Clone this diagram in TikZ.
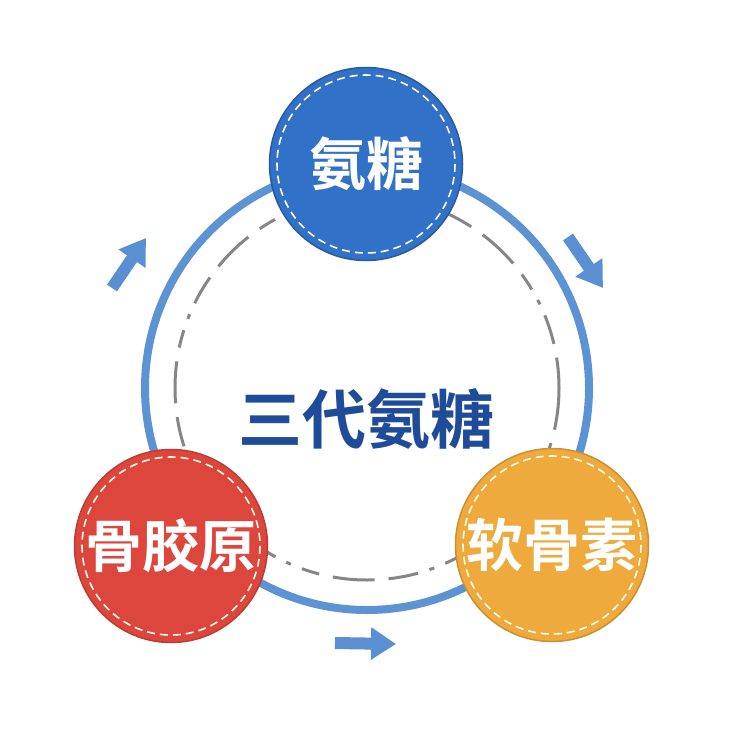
\documentclass[tikz,border=0pt]{standalone}
\usepackage{fontspec}
\newfontfamily\cjk{Noto Sans CJK SC}[BoldFont={Noto Sans CJK SC Bold}]
\usetikzlibrary{arrows.meta}
\definecolor{ringblue}{HTML}{5B93D3}
\definecolor{flowblue}{HTML}{5A90D2}
\definecolor{ballblue}{HTML}{3271C8}
\definecolor{ballred}{HTML}{DC463D}
\definecolor{ballorange}{HTML}{EEAA3C}
\definecolor{titleblue}{HTML}{1F4C99}

\begin{document}
\begin{tikzpicture}[x=1pt,y=-1pt,
  ball/.style={circle,minimum size=193pt,inner sep=0pt,line width=1.5pt,
    text=white,font=\cjk\bfseries\fontsize{57}{57}\selectfont},
  stitch/.style={draw=white!90!yellow,line width=1.6pt,dash pattern=on 8pt off 5pt},
  flow/.style={draw=flowblue,line width=12pt,-{Triangle[length=25pt,width=31pt]}}]
  \useasboundingbox[fill=white] (0,0) rectangle (730,730);
  \coordinate (O) at (367,388);
  \draw[ringblue,line width=8pt] (O) circle[radius=222];
  \draw[gray!95,line width=3pt,
    dash pattern=on 42pt off 14pt on 18pt off 12pt on 5pt off 12pt on 30pt off 14pt]
    (O) circle[radius=192];

  \node[ball,fill=ballblue,draw=ballblue!80!black] (an) at (366,164) {\raisebox{3pt}{氨糖}};
  \node[ball,fill=ballred,draw=ballred!85!black] (gu) at (171,546) {骨胶原};
  \node[ball,fill=ballorange,draw=ballorange!85!black] (ruan) at (552,545) {软骨素};
  \draw[stitch] (an) circle[radius=89];
  \draw[stitch] (gu) circle[radius=89];
  \draw[stitch] (ruan) circle[radius=89];

  \node[text=titleblue,font=\cjk\bfseries\fontsize{64}{64}\selectfont] (title) at (366,419) {三代氨糖};

  \coordinate (ul1) at (112,288);
  \coordinate (ul2) at (146,238);
  \coordinate (ur1) at (568,237);
  \coordinate (ur2) at (603,288);
  \coordinate (bt1) at (335,643);
  \coordinate (bt2) at (396,644);
  \draw[flow] (ul1) -- (ul2);
  \draw[flow] (ur1) -- (ur2);
  \draw[flow] (bt1) -- (bt2);
\end{tikzpicture}
\end{document}
